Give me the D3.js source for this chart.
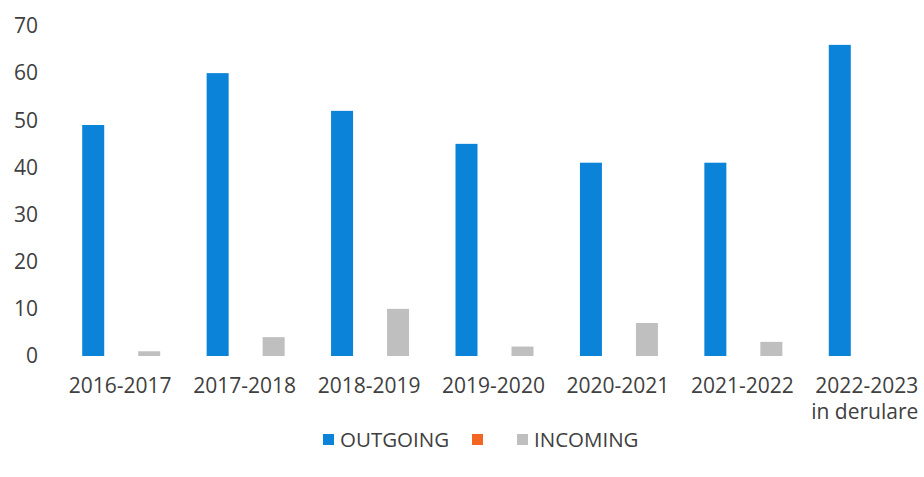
<!DOCTYPE html>
<html><head><meta charset="utf-8">
<script src="https://cdn.jsdelivr.net/npm/d3@7/dist/d3.min.js"></script>
<style>body{margin:0;background:#fff}svg{display:block}text{font-family:"Open Sans",sans-serif;fill:#404040}</style>
</head><body><svg id="c" width="924" height="477"></svg>
<script>
const categories = ["2016-2017","2017-2018","2018-2019","2019-2020","2020-2021","2021-2022","2022-2023\nin derulare"];
const seriesNames = ["OUTGOING","","INCOMING"];
const outgoing = [49,60,52,45,41,41,66];
const middle = [0,0,0,0,0,0,0];
const incoming = [1,4,10,2,7,3,0];
const yTicks = [0,10,20,30,40,50,60,70];
const colors = ["#0a83d8","#f26522","#bfbfbf"];

const svg = d3.select("#c");
const x = d3.scaleBand().domain(categories).range([59, 930]).paddingInner(0).paddingOuter(0);
const y = d3.scaleLinear().domain([0,70]).range([356, 26]);
const series = [outgoing, middle, incoming];
const bw = 22, step = 28;

// y axis
const ya = svg.append("g").attr("transform","translate(38,0)")
  .call(d3.axisLeft(y).tickValues(yTicks).tickSize(0).tickPadding(0));
ya.select(".domain").remove();
ya.selectAll("text").style("font-size","21px").attr("fill","#404040").style("font-family","Open Sans");

// bars
series.forEach((vals,si)=>{
  svg.append("g").selectAll("rect").data(vals).join("rect")
    .attr("x",(d,i)=> x(categories[i]) + x.bandwidth()/2 - 39 + si*step)
    .attr("width",bw)
    .attr("y",d=>y(d))
    .attr("height",d=>y(0)-y(d))
    .attr("fill",colors[si]);
});

// x labels
const xl = svg.append("g");
categories.forEach(c=>{
  const lines = c.split("\n");
  const cx = x(c)+x.bandwidth()/2 - 1;
  const t = xl.append("text").attr("text-anchor","middle").style("font-size","21px")
    .attr("x", cx).attr("y", 393);
  lines.forEach((l,li)=> t.append("tspan").attr("x", cx - (li?2:0)).attr("dy", li?26:0).text(l));
});

// legend
const leg = [{n:"OUTGOING",c:colors[0],x:323},{n:"",c:colors[1],x:472},{n:"INCOMING",c:colors[2],x:517}];
leg.forEach(l=>{
  svg.append("rect").attr("x",l.x).attr("y",434).attr("width",11).attr("height",11).attr("fill",l.c);
  if(l.n) svg.append("text").attr("x",l.x+17).attr("y",447).style("font-size","20.5px").text(l.n);
});
</script></body></html>
